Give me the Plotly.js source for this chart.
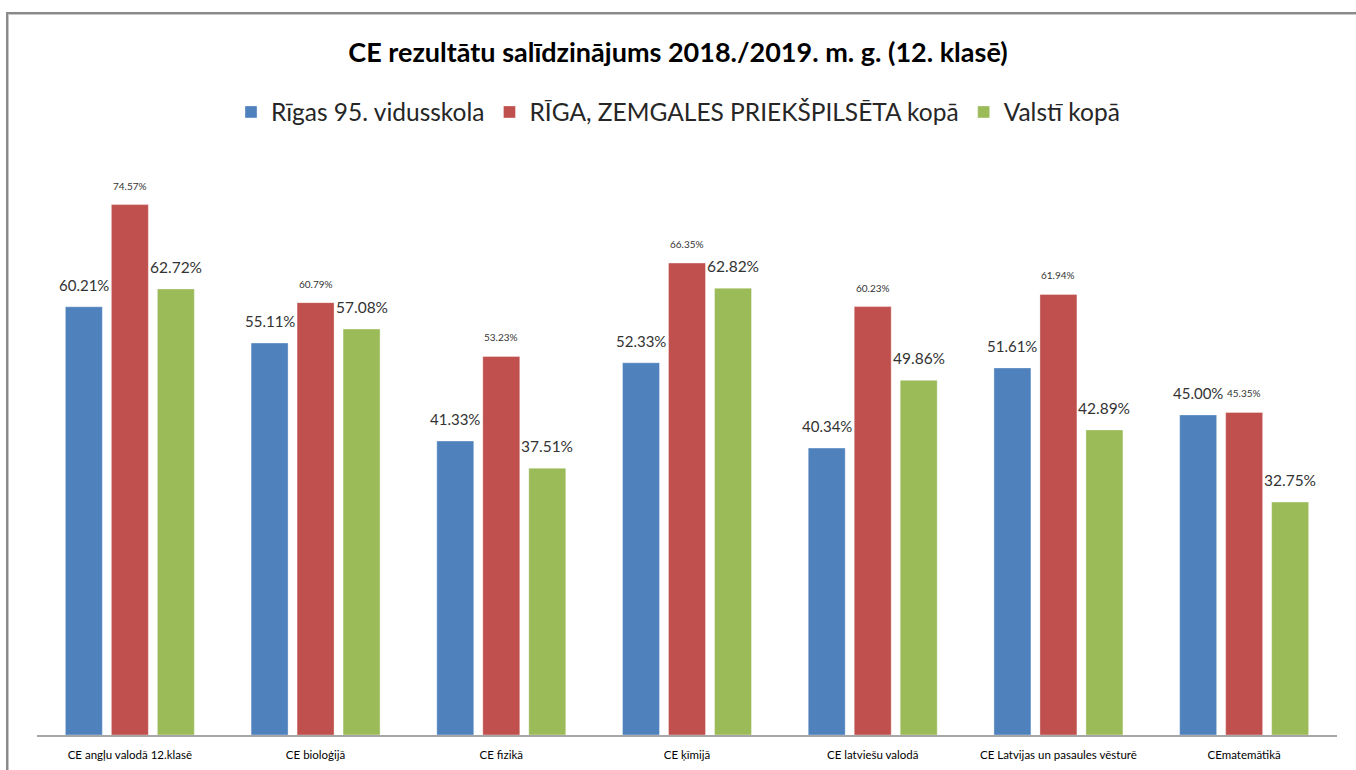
<!DOCTYPE html>
<html>
<head>
<meta charset="utf-8">
<script src="https://cdn.plot.ly/plotly-3.0.1.min.js"></script>
<style>
html,body{margin:0;padding:0;background:#fff;overflow:hidden;}
#chart{position:absolute;left:0;top:0;width:1356px;height:770px;}
#frame{position:absolute;left:6px;top:12px;width:1400px;height:800px;border-left:2px solid #8a8a8a;border-top:2px solid #8a8a8a;box-shadow:inset 1px 1px 0 #c8c8c8;pointer-events:none;}
</style>
</head>
<body>
<div id="chart"></div>
<div id="frame"></div>
<script>
const categories = ["CE angļu valodā 12.klasē","CE bioloģijā","CE fizikā","CE ķīmijā","CE latviešu valodā","CE Latvijas un pasaules vēsturē","CEmatemātikā"];
const seriesNames = ["Rīgas 95. vidusskola","RĪGA, ZEMGALES PRIEKŠPILSĒTA kopā","Valstī kopā"];
const school = [60.21, 55.11, 41.33, 52.33, 40.34, 51.61, 45.00];
const district = [74.57, 60.79, 53.23, 66.35, 60.23, 61.94, 45.35];
const country = [62.72, 57.08, 37.51, 62.82, 49.86, 42.89, 32.75];

const colors = ["#4F81BD","#C0504D","#9BBB59"];
const labelSizes = [15, 10, 15.5];
const allSeries = [school, district, country];

const W = 1356, H = 770;
const margin = {l:37, r:19, t:166, b:35};
const bargap = 0.257, bargroupgap = 0.196;
const slot = (W - margin.l - margin.r) / categories.length * (1 - bargap) / 3;

const traces = allSeries.map((vals, i) => ({
  type: 'bar',
  name: seriesNames[i],
  x: categories,
  y: vals,
  marker: {color: colors[i], line: {color: 'rgba(255,255,255,0.35)', width: 1}},
  hoverinfo: 'skip'
}));

const annotations = [];
allSeries.forEach((vals, i) => {
  vals.forEach((v, j) => {
    annotations.push({
      x: categories[j], y: v, xref: 'x', yref: 'y',
      xshift: (i - 1) * slot, yshift: 11,
      yanchor: 'bottom', xanchor: 'center',
      text: v.toFixed(2) + '%', showarrow: false,
      font: {family: 'Lato, "Open Sans", sans-serif', size: labelSizes[i], color: '#333333'}
    });
  });
});

const layout = {
  width: W, height: H,
  margin: margin,
  paper_bgcolor: '#ffffff', plot_bgcolor: '#ffffff',
  barmode: 'group', bargap: bargap, bargroupgap: bargroupgap,
  font: {family: 'Lato, "Open Sans", sans-serif', color: '#000'},
  title: {
    text: '<b>CE rezultātu salīdzinājums 2018./2019. m. g. (12. klasē)</b>',
    font: {family: 'Lato, "Open Sans", sans-serif', size: 27, color: '#000'},
    x: 0.5, xanchor: 'center', xref: 'container',
    y: 1 - 53 / H, yanchor: 'middle', yref: 'container'
  },
  showlegend: true,
  legend: {
    orientation: 'h', x: 0.5, xanchor: 'center', xref: 'container',
    y: 1 - 112 / H, yanchor: 'middle', yref: 'container',
    font: {family: 'Lato, "Open Sans", sans-serif', size: 24.5, color: '#262626'},
    itemwidth: 30, traceorder: 'normal'
  },
  xaxis: {
    type: 'category',
    showline: true, linecolor: '#a6a6a6', linewidth: 2,
    ticks: '', showgrid: false, zeroline: false,
    ticklabelstandoff: 8,
    tickfont: {family: 'Lato, "Liberation Sans", sans-serif', size: 11.5, color: '#000'},
    fixedrange: true
  },
  yaxis: {
    range: [0, 80], visible: false, showgrid: false, zeroline: false, fixedrange: true
  },
  annotations: annotations
};

Plotly.newPlot('chart', traces, layout, {displayModeBar: false, staticPlot: true});
</script>
</body>
</html>
